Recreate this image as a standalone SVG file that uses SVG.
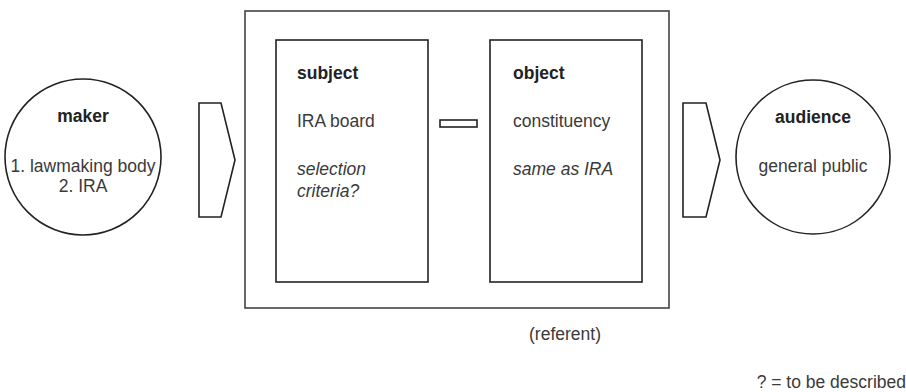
<svg xmlns="http://www.w3.org/2000/svg" width="906" height="392" viewBox="0 0 906 392">
<style>
  .shape { fill: #fff; stroke: #222; stroke-width: 1.6; }
  .outer { fill: none; stroke: #444; stroke-width: 1.6; }
  text { font-family: "Liberation Sans", Arial, sans-serif; font-size: 17.5px; fill: #3a3a3a; }
  .b { font-weight: bold; fill: #222; }
  .i { font-style: italic; }
  .m { text-anchor: middle; }
</style>
<rect width="906" height="392" fill="#fff"/>
<g id="referent">
  <rect class="outer" x="245" y="11" width="424" height="297"/>
  <text class="m" x="565" y="340">(referent)</text>
</g>
<g id="maker">
  <circle class="shape" cx="83" cy="157" r="78"/>
  <text class="b m" x="83" y="122">maker</text>
  <text class="m" x="83" y="172">1. lawmaking body</text>
  <text class="m" x="83" y="192">2. IRA</text>
</g>
<g id="subject">
  <rect class="shape" x="276" y="40" width="152" height="242"/>
  <text class="b" x="297" y="79">subject</text>
  <text x="297" y="127">IRA board</text>
  <text class="i" x="297" y="175">selection</text>
  <text class="i" x="297" y="197">criteria?</text>
</g>
<g id="object">
  <rect class="shape" x="490" y="40" width="152" height="242"/>
  <text class="b" x="513" y="79">object</text>
  <text x="513" y="127">constituency</text>
  <text class="i" x="513" y="175">same as IRA</text>
</g>
<g id="audience">
  <circle class="shape" cx="813" cy="157" r="77"/>
  <text class="b m" x="813" y="123">audience</text>
  <text class="m" x="813" y="172">general public</text>
</g>
<g id="connectors">
  <polygon class="shape" points="199,103 221,103 235,160 221,217 199,217"/>
  <rect class="shape" x="440" y="120" width="37" height="7"/>
  <polygon class="shape" points="683,103 706,103 720,160 706,217 683,217"/>
</g>
<g id="legend">
  <text x="906" y="388" text-anchor="end">? = to be described</text>
</g>
</svg>
